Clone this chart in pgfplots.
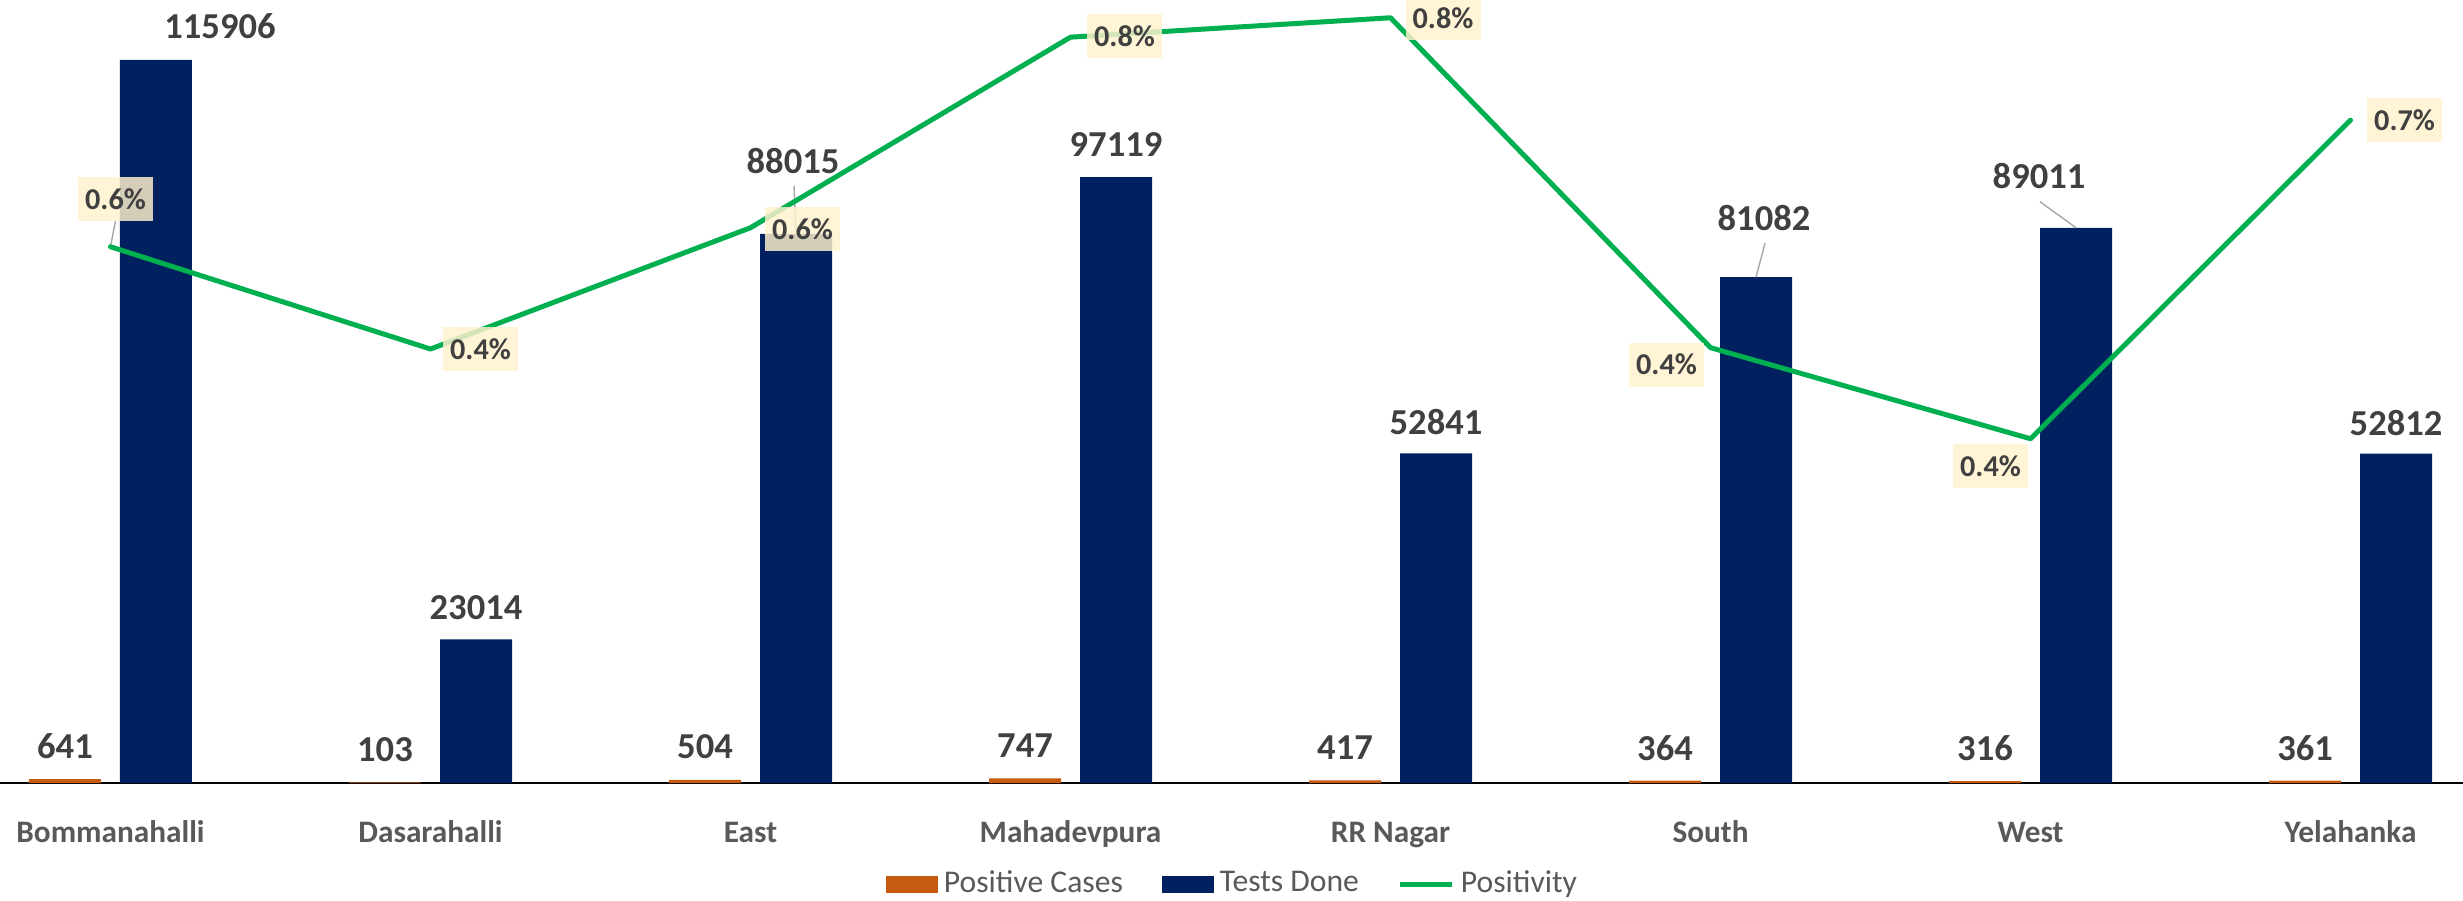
\documentclass[border=0pt]{standalone}
\usepackage{fontspec}
\setmainfont{Carlito}
\usepackage{pgfplots}
\pgfplotsset{compat=1.18}
\usepackage{pgfplotstable}

\definecolor{navy}{HTML}{002060}
\definecolor{orng}{HTML}{C55A11}
\definecolor{grn}{HTML}{00B050}
\definecolor{lbl}{HTML}{404040}
\definecolor{cat}{HTML}{595959}
\definecolor{boxc}{HTML}{FFF2CC}
\definecolor{lead}{HTML}{A6A6A6}

% positive cases
\pgfplotstableread{
x y
0 641
1 103
2 504
3 747
4 417
5 364
6 316
7 361
}\posdata

% tests done, with label offsets (cm)
\pgfplotstableread{
x y dx dy
0 115906 0.64 0.335
1 23014 0 0.315
2 88015 -0.03 0.73
3 97119 0 0.33
4 52841 0 0.31
5 81082 0.08 0.595
6 89011 -0.37 0.52
7 52812 0 0.31
}\testdata

% positivity in percent, label and label offsets (cm)
\pgfplotstableread{
x y lab dx dy
0 0.55303 0.6 0.05 0.48
1 0.44755 0.4 0.50 0
2 0.57263 0.6 0.52 -0.01
3 0.76916 0.8 0.54 0.01
4 0.78916 0.8 0.525 0
5 0.44893 0.4 -0.44 -0.17
6 0.35501 0.4 -0.40 -0.27
7 0.68356 0.7 0.54 0
}\ratedata

\begin{document}
\begin{tikzpicture}
\begin{axis}[
  at={(0cm,1.18cm)}, anchor=south west,
  scale only axis, width=24.63cm, height=7.83cm,
  xmin=-0.3453, xmax=7.3516, ymin=0, ymax=125525,
  ybar, bar width=0.72cm,
  axis x line=bottom, axis y line=none,
  x axis line style={-, black, line width=0.02cm},
  xtick={0,...,7},
  xticklabels={Bommanahalli,Dasarahalli,East,Mahadevpura,RR Nagar,South,West,Yelahanka},
  xtick style={draw=none},
  xticklabel style={anchor=base, yshift=-0.52cm, text=cat,
    font=\bfseries\fontsize{8.9}{10}\selectfont},
  ytick=\empty,
  clip=false,
  legend columns=-1,
  legend style={at={(0.5,-0.1296)}, anchor=center, draw=none, fill=none,
    font=\fontsize{9}{11}\selectfont, text=cat, nodes={inner sep=0pt},
    /tikz/every even column/.append style={column sep=0.39cm},
    /tikz/every odd column/.append style={column sep=0.06cm}},
]
\addplot[fill=orng, draw=none, bar shift=-0.455cm,
  point meta=explicit symbolic, nodes near coords,
  every node near coord/.append style={anchor=center, yshift=0.33cm, inner sep=0pt,
    text=lbl, font=\bfseries\fontsize{10.4}{12}\selectfont},
  legend image code/.code={\fill[orng] (0cm,-0.085cm) rectangle (0.52cm,0.085cm);}
] table[x=x, y=y, meta=y] {\posdata};

\addplot[fill=navy, draw=none, bar shift=0.455cm,
  point meta=explicit symbolic, nodes near coords,
  visualization depends on={\thisrow{dx} \as \ldx},
  visualization depends on={\thisrow{dy} \as \ldy},
  every node near coord/.append style={anchor=center, xshift=\ldx cm, yshift=\ldy cm,
    inner sep=0pt, text=lbl, font=\bfseries\fontsize{10.4}{12}\selectfont},
  legend image code/.code={\fill[navy] (0cm,-0.085cm) rectangle (0.52cm,0.085cm);}
] table[x=x, y=y, meta=y] {\testdata};

\addlegendimage{legend image code/.code={\draw[grn, line width=0.05cm] (0cm,0cm) -- (0.52cm,0cm);}}
\legend{Positive Cases, Tests Done, Positivity}

% leader lines for moved labels
\draw[lead, line width=0.4pt] ([xshift=0.455cm]axis cs:2,88015) -- ([xshift=0.435cm,yshift=0.48cm]axis cs:2,88015);
\draw[lead, line width=0.4pt] ([xshift=0.455cm]axis cs:5,81082) -- ([xshift=0.545cm,yshift=0.34cm]axis cs:5,81082);
\draw[lead, line width=0.4pt] ([xshift=0.455cm]axis cs:6,89011) -- ([xshift=0.095cm,yshift=0.26cm]axis cs:6,89011);
\end{axis}

\begin{axis}[
  at={(0cm,1.18cm)}, anchor=south west,
  scale only axis, width=24.63cm, height=7.83cm,
  xmin=-0.3453, xmax=7.3516, ymin=0, ymax=0.8075,
  hide axis, clip=false,
]
\draw[lead, line width=0.4pt] (axis cs:0,0.55303) -- ([xshift=0.05cm,yshift=0.26cm]axis cs:0,0.55303);
\addplot[grn, line width=0.05cm, line join=round, line cap=round, mark=none,
  point meta=explicit symbolic, nodes near coords={\pgfplotspointmeta\%},
  visualization depends on={\thisrow{dx} \as \ldx},
  visualization depends on={\thisrow{dy} \as \ldy},
  every node near coord/.append style={anchor=center, xshift=\ldx cm, yshift=\ldy cm,
    fill=boxc, fill opacity=0.83, text opacity=1, minimum width=0.75cm,
    minimum height=0.44cm, inner sep=0pt, text=lbl,
    font=\bfseries\fontsize{8.6}{10}\selectfont}
] table[x=x, y=y, meta=lab] {\ratedata};
\end{axis}

\pgfresetboundingbox
\path[use as bounding box] (0,0) rectangle (24.63cm,9.01cm);
\end{tikzpicture}
\end{document}
